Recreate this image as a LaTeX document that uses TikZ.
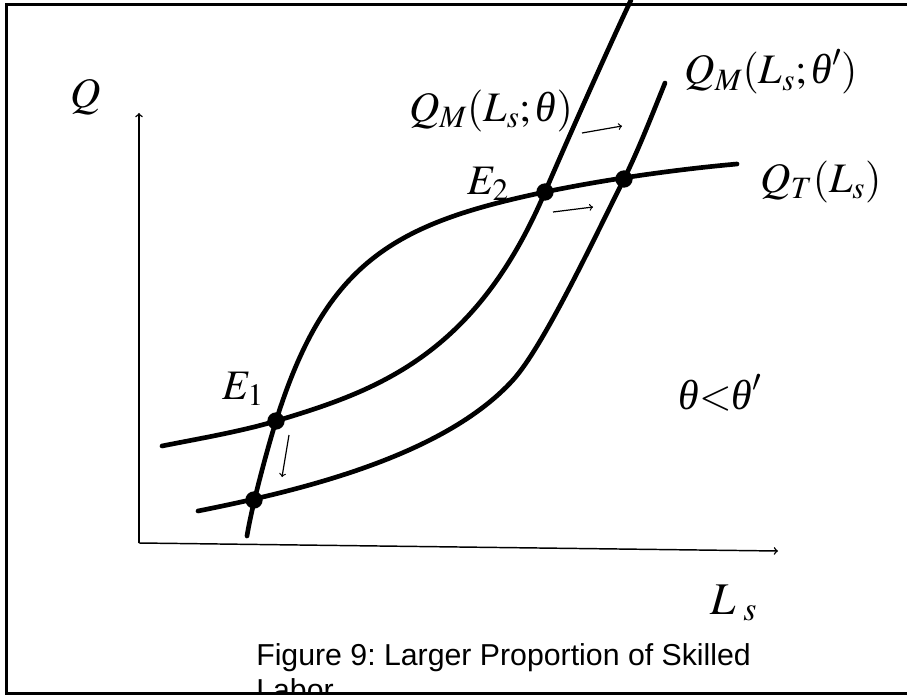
\documentclass[tikz,border=0pt]{standalone}
\usepackage{mathptmx}
\usepackage[no-math]{fontspec}
\newfontfamily\capfont{Liberation Sans}
\newfontfamily\grkfont{Liberation Serif}
\newcommand{\thit}{\mbox{\grkfont\itshape θ}}
\usetikzlibrary{arrows,positioning}
\frenchspacing

\begin{document}
\begin{tikzpicture}[x=0.75pt,y=0.75pt,yscale=-1,xscale=1,
  curve/.style={line width=3.5pt,line cap=round},
  axisline/.style={line width=1.1pt,->},
  shiftarrow/.style={line width=0.9pt,->},
  dot/.style={circle,fill=black,inner sep=0pt,minimum size=13pt},
  lbl/.style={font=\fontsize{31.5}{34}\selectfont,inner sep=0pt},
  caption/.style={font=\capfont\fontsize{22.7}{26}\selectfont,inner sep=0pt,anchor=base west}]
%set diagram to 907 x 695
\useasboundingbox (0,0) rectangle (907,695);
\clip (0,0) rectangle (907,695);

%Axes
\coordinate (O) at (139,543);
\coordinate (ytop) at (139,113);
\coordinate (xend) at (778,551);
\draw [axisline] (O) -- (ytop);
\draw [axisline] (O) -- (xend);

%Curve Lines: Q_T
\draw [curve] (247,536) .. controls (252,505) and (268,446.6) .. (276,421)
  .. controls (326,261) and (395,223.5) .. (545,192)
  .. controls (600,180.5) and (670,170) .. (737,164);
%Curve Lines: Q_M theta
\draw [curve] (162,446) .. controls (197,439) and (241,431.5) .. (276,421)
  .. controls (376,391) and (475,356.5) .. (545,192)
  .. controls (560,157) and (605,55) .. (631,0);
%Curve Lines: Q_M theta'
\draw [curve] (198,511) .. controls (298,491) and (443,457) .. (513,380)
  .. controls (543,347) and (594,239) .. (624,179)
  .. controls (638,151) and (652,115) .. (665,83);

%Equilibria
\node [dot] (E1) at (276,421) {};
\node [dot] (E1new) at (254,500) {};
\node [dot] (E2) at (545,192) {};
\node [dot] (E2new) at (624,179) {};

%Shift arrows
\coordinate (d1) at (289,435);
\coordinate (d2) at (282,477);
\coordinate (u1) at (582,133);
\coordinate (u2) at (622,126);
\coordinate (m1) at (553,212);
\coordinate (m2) at (593,207);
\draw [shiftarrow] (d1) -- (d2);
\draw [shiftarrow] (u1) -- (u2);
\draw [shiftarrow] (m1) -- (m2);

% Text Node
\node [lbl] (lQ) at (86,97) {$Q$};
% Text Node
\node [lbl] (lQM) at (491,111) {$Q_M(L_s;\thit)$};
% Text Node
\node [lbl] (lQMp) at (771,72) {$Q_M(L_s;\thit')$};
% Text Node
\node [lbl] (lE2) at (488,184) {$E_2$};
% Text Node
\node [lbl] (lQT) at (821,182) {$Q_T(L_s)$};
% Text Node
\node [lbl] (lE1) at (243,389) {$E_1$};
% Text Node
\node [lbl] (lth) at (720,393) {$\thit{<}\thit'$};
% Text Node
\node [lbl,font=\fontsize{34}{36}\selectfont] (lLs) at (734,603) {$L_{\;s}$};
% Text Node
\node [caption] (cap1) at (256,665) {Figure 9: Larger Proportion of Skilled};
\node [caption] (cap2) at (256,700) {Labor};

%Frame
\draw [line width=2.4pt] (907,4.5) -- (6.5,4.5) -- (6.5,693.5) -- (907,693.5);

\end{tikzpicture}
\end{document}
